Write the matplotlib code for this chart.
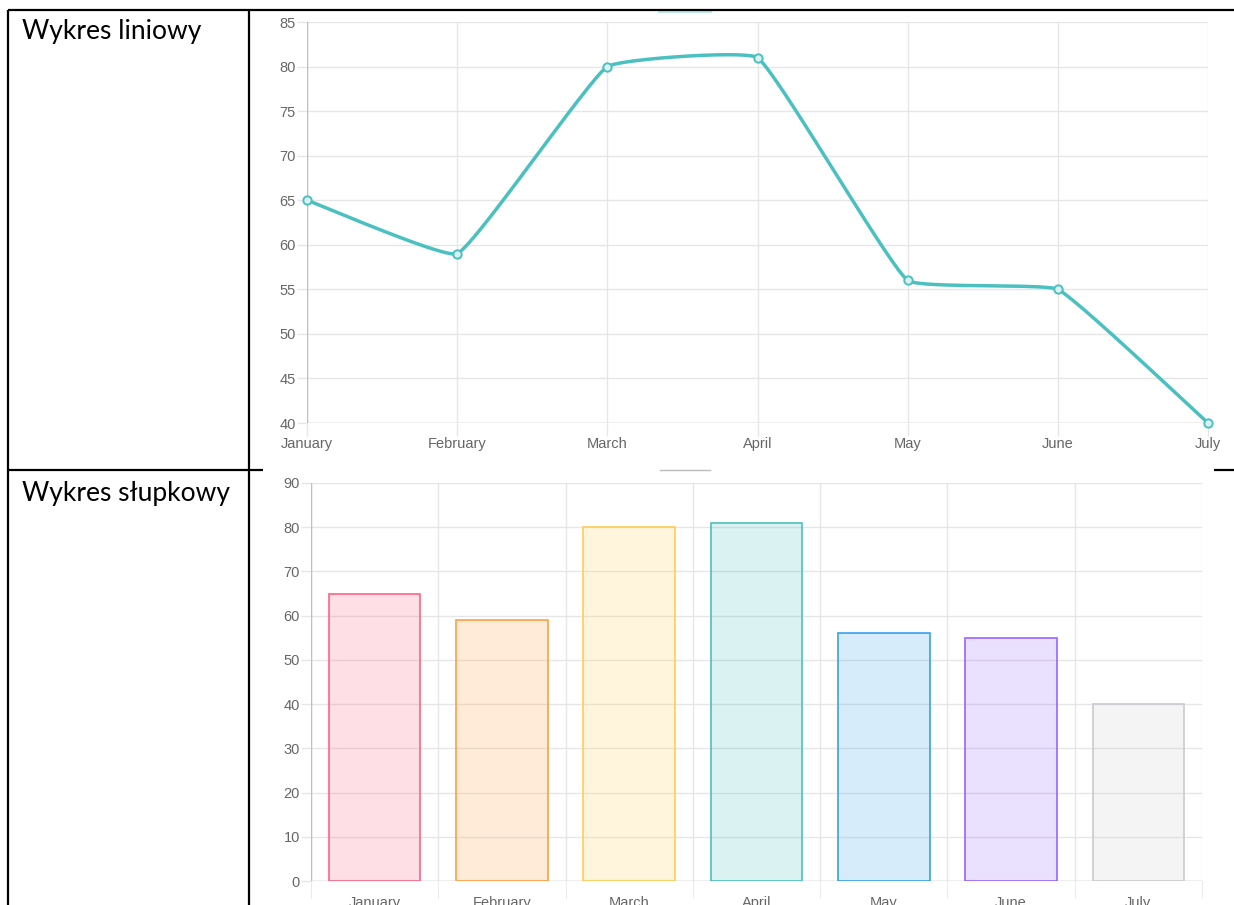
import matplotlib.pyplot as plt
from matplotlib.patches import Rectangle
import numpy as np

months = ["January", "February", "March", "April", "May", "June", "July"]
line_values = [65, 59, 80, 81, 56, 55, 40]
bar_values = [65, 59, 80, 81, 56, 55, 40]
bar_rgb = [(255, 99, 132), (255, 159, 64), (255, 205, 86), (75, 192, 192),
           (54, 162, 235), (153, 102, 255), (201, 203, 207)]

W, H = 1234, 905
teal = (75/255, 192/255, 192/255)
grid_c = "#e6e6e6"
axis_c = "#bfbfbf"
tick_c = "#666666"
tick_font = "Liberation Sans"


def px_axes(fig, left, top, right, bottom):
    return fig.add_axes([left / W, 1 - bottom / H, (right - left) / W, (bottom - top) / H])


def spline(xs, ys, sx, sy, t=0.1):
    # chart.js style bezier curve through the points (distances in pixels)
    px = np.array(xs, float) * sx
    py = np.array(ys, float) * sy
    n = len(px)
    out_x, out_y = [], []
    ctrl = []
    for i in range(n):
        p0 = (px[max(i - 1, 0)], py[max(i - 1, 0)])
        p1 = (px[i], py[i])
        p2 = (px[min(i + 1, n - 1)], py[min(i + 1, n - 1)])
        d01 = np.hypot(p1[0] - p0[0], p1[1] - p0[1])
        d12 = np.hypot(p2[0] - p1[0], p2[1] - p1[1])
        s01 = d01 / (d01 + d12) if d01 + d12 else 0
        s12 = d12 / (d01 + d12) if d01 + d12 else 0
        fa, fb = t * s01, t * s12
        prev_c = (p1[0] - fa * (p2[0] - p0[0]), p1[1] - fa * (p2[1] - p0[1]))
        next_c = (p1[0] + fb * (p2[0] - p0[0]), p1[1] + fb * (p2[1] - p0[1]))
        ctrl.append((prev_c, next_c))
    u = np.linspace(0, 1, 60)
    for i in range(n - 1):
        a = np.array([px[i], py[i]])
        b = np.array(ctrl[i][1])
        c = np.array(ctrl[i + 1][0])
        d = np.array([px[i + 1], py[i + 1]])
        seg = ((1 - u) ** 3)[:, None] * a + (3 * (1 - u) ** 2 * u)[:, None] * b \
            + (3 * (1 - u) * u ** 2)[:, None] * c + (u ** 3)[:, None] * d
        out_x.extend(seg[:, 0] / sx)
        out_y.extend(seg[:, 1] / sy)
    return out_x, out_y


fig = plt.figure(figsize=(W / 100, H / 100), dpi=100)

# table drawn underneath
bg = fig.add_axes([0, 0, 1, 1], zorder=0)
bg.set_xlim(0, W)
bg.set_ylim(H, 0)
bg.axis("off")
for seg in [((8, 1234), (10, 10)), ((8, 8), (10, 905)), ((249, 249), (10, 905)),
            ((8, 263), (470, 470)), ((1214, 1234), (470, 470))]:
    bg.plot(seg[0], seg[1], color="black", lw=1.6, solid_capstyle="butt")
bg.text(22, 31, "Wykres liniowy", fontsize=19, family="Lato", va="center", ha="left")
bg.text(22, 493, "Wykres słupkowy", fontsize=19, family="Lato", va="center", ha="left")
# partly hidden legend boxes
bg.add_patch(Rectangle((658, 10.5), 54, 2.5, color=teal, alpha=0.35, lw=0))
bg.plot((660, 710), (469.5, 469.5), color="#bbbbbb", lw=1)


def style(ax):
    ax.set_facecolor("none")
    for s in ax.spines.values():
        s.set_visible(False)
    ax.tick_params(colors=tick_c, labelsize=10.5, length=7, width=1)
    ax.tick_params(axis="both", which="both", color=grid_c)
    for lab in ax.get_xticklabels() + ax.get_yticklabels():
        lab.set_family(tick_font)


# line chart
ax1 = px_axes(fig, 307, 22, 1208, 423)
ax1.set_xlim(0, 6)
ax1.set_ylim(40, 85)
ax1.set_xticks(range(7))
ax1.set_xticklabels(months)
ax1.set_yticks(range(40, 86, 5))
ax1.grid(True, color=grid_c, lw=1)
ax1.axhline(40, color=axis_c, lw=1)
ax1.axvline(0, color=axis_c, lw=1)
style(ax1)
ax1.tick_params(axis="y", pad=1)
ax1.tick_params(axis="x", length=9, pad=1)
cx, cy = spline(range(7), line_values, 901 / 6, 401 / 45)
ax1.plot(cx, cy, color=teal, lw=2.5, clip_on=False, zorder=3)
ax1.plot(range(7), line_values, "o", ms=6, mfc=(0.85, 0.95, 0.95), mec=teal, mew=1.4,
         clip_on=False, zorder=4)

# bar chart
ax2 = px_axes(fig, 311, 483, 1202, 881)
ax2.set_xlim(-0.5, 6.5)
ax2.set_ylim(0, 90)
ax2.set_yticks(range(0, 91, 10))
ax2.set_xticks(range(7))
ax2.set_xticklabels(months)
ax2.set_xticks(np.arange(-0.5, 7, 1), minor=True)
ax2.grid(True, axis="y", color=grid_c, lw=1)
ax2.grid(True, axis="x", which="minor", color=grid_c, lw=1)
ax2.axhline(0, color=axis_c, lw=1)
ax2.axvline(-0.5, color=axis_c, lw=1)
style(ax2)
ax2.tick_params(axis="x", which="major", length=0, pad=11)
ax2.tick_params(axis="x", which="minor", length=12)
ax2.tick_params(axis="y", pad=1)
fills = [tuple(v / 255 for v in c) + (0.2,) for c in bar_rgb]
edges = [tuple(v / 255 for v in c) for c in bar_rgb]
ax2.bar(range(7), bar_values, width=0.72, color=fills, edgecolor=edges, lw=1.2, zorder=3)

fig.savefig("out.png", dpi=100)
